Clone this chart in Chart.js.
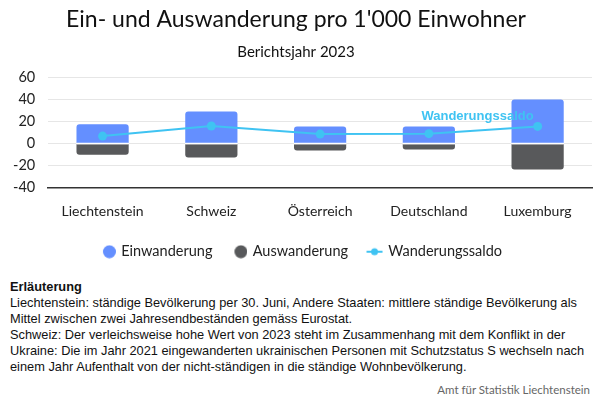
<!DOCTYPE html>
<html>
<head>
<meta charset="utf-8">
<script src="https://cdn.jsdelivr.net/npm/chart.js@4"></script>
<style>
  body { margin: 0; background: #fff; }
  #wrap { position: relative; width: 600px; height: 400px; }
  #chartBox { position: absolute; left: 0; top: 0; width: 600px; height: 269px; }
  #notes {
    position: absolute; left: 10px; top: 279px; width: 588px;
    font-family: "Liberation Sans", Arial, sans-serif; font-size: 12.8px;
    line-height: 16px; color: #111;
  }
  #notes b { font-weight: bold; }
  #credit {
    position: absolute; right: 10px; top: 383px;
    font-family: Lato, sans-serif; font-size: 11.5px; color: #666;
  }
</style>
</head>
<body>
<div id="wrap">
  <div id="chartBox"><canvas id="migChart"></canvas></div>
  <div id="notes">
    <b>Erläuterung</b><br>
    Liechtenstein: ständige Bevölkerung per 30. Juni, Andere Staaten: mittlere ständige Bevölkerung als<br>
    Mittel zwischen zwei Jahresendbeständen gemäss Eurostat.<br>
    Schweiz: Der verleichsweise hohe Wert von 2023 steht im Zusammenhang mit dem Konflikt in der<br>
    Ukraine: Die im Jahr 2021 eingewanderten ukrainischen Personen mit Schutzstatus S wechseln nach<br>
    einem Jahr Aufenthalt von der nicht-ständigen in die ständige Wohnbevölkerung.
  </div>
  <div id="credit">Amt für Statistik Liechtenstein</div>
</div>
<script>
// Werte pro 1'000 Einwohner, Berichtsjahr 2023
const countries = ["Liechtenstein", "Schweiz", "Österreich", "Deutschland", "Luxemburg"];
const einwanderung = [17.5, 29.2, 15.6, 15.6, 40.0];
const auswanderung = [-10.2, -12.8, -6.4, -5.5, -23.6];
const saldo = [6.8, 16.0, 8.6, 9.0, 15.6];
const yTicks = [-40, -20, 0, 20, 40, 60];

const blue = "#648fff";
const dark = "#58595b";
const cyan = "#3fc3f2";

// legend markers; the empty left part of the image gives the gap between items
function circleMarker(color) {
  const c = document.createElement("canvas");
  c.width = 28; c.height = 14;
  const g = c.getContext("2d");
  g.fillStyle = color;
  g.beginPath(); g.arc(21.5, 7, 6.5, 0, Math.PI * 2); g.fill();
  return c;
}
function lineMarker(color) {
  const c = document.createElement("canvas");
  c.width = 28; c.height = 14;
  const g = c.getContext("2d");
  g.strokeStyle = color; g.lineWidth = 2;
  g.beginPath(); g.moveTo(11.5, 7); g.lineTo(27.5, 7); g.stroke();
  g.fillStyle = color;
  g.beginPath(); g.arc(19.5, 7, 3.5, 0, Math.PI * 2); g.fill();
  return c;
}

// white separator where the two bars meet at zero
const zeroGap = {
  id: "zeroGap",
  afterDatasetDraw(chart, args) {
    if (args.meta.type !== "bar") return;
    const y0 = chart.scales.y.getPixelForValue(0);
    const ctx = chart.ctx;
    ctx.save();
    ctx.strokeStyle = "#fff";
    ctx.lineWidth = 1.5;
    args.meta.data.forEach(bar => {
      ctx.beginPath();
      ctx.moveTo(bar.x - bar.width / 2, y0);
      ctx.lineTo(bar.x + bar.width / 2, y0);
      ctx.stroke();
    });
    ctx.restore();
  }
};

// series name next to the last point of the line
const seriesLabel = {
  id: "seriesLabel",
  afterDatasetsDraw(chart) {
    const idx = 2;
    const meta = chart.getDatasetMeta(idx);
    const last = meta.data[meta.data.length - 1];
    const ctx = chart.ctx;
    ctx.save();
    ctx.font = "bold 13px 'Liberation Sans', Arial, sans-serif";
    ctx.fillStyle = cyan;
    ctx.textAlign = "right";
    ctx.textBaseline = "middle";
    ctx.fillText(chart.data.datasets[idx].label, last.x - 4, last.y - 10);
    ctx.restore();
  }
};

new Chart(document.getElementById("migChart"), {
  data: {
    labels: countries,
    datasets: [
      {
        type: "bar",
        label: "Einwanderung",
        data: einwanderung,
        backgroundColor: blue,
        borderRadius: 3,
        stack: "bars",
        order: 1,
        barPercentage: 0.6,
        categoryPercentage: 0.8,
      },
      {
        type: "bar",
        label: "Auswanderung",
        data: auswanderung,
        backgroundColor: dark,
        borderRadius: 3,
        stack: "bars",
        order: 1,
        barPercentage: 0.6,
        categoryPercentage: 0.8,
      },
      {
        type: "line",
        label: "Wanderungssaldo",
        data: saldo,
        borderColor: cyan,
        backgroundColor: cyan,
        borderWidth: 2,
        pointRadius: 4.5,
        pointBorderWidth: 0,
        pointStyle: "circle",
        tension: 0,
        stack: "saldo",
        order: 0,
      },
    ],
  },
  options: {
    responsive: true,
    maintainAspectRatio: false,
    animation: false,
    layout: { padding: { left: 0, right: 8, top: 0, bottom: 0 } },
    plugins: {
      title: {
        display: true,
        text: "Ein- und Auswanderung pro 1'000 Einwohner",
        font: { family: "Lato", size: 23, weight: "normal" },
        color: "#111",
        padding: { top: 6, bottom: 0 },
      },
      subtitle: {
        display: true,
        text: "Berichtsjahr 2023",
        font: { family: "Lato", size: 15 },
        color: "#111",
        padding: { top: 10, bottom: 16 },
      },
      legend: {
        position: "bottom",
        labels: {
          usePointStyle: true,
          pointStyleWidth: 24,
          boxHeight: 9,
          padding: 9,
          color: "#222",
          font: { family: "Lato", size: 14.5 },
          sort: (a, b) => a.datasetIndex - b.datasetIndex,
          generateLabels(chart) {
            const items = Chart.defaults.plugins.legend.labels.generateLabels(chart);
            items.forEach(it => {
              const ds = chart.data.datasets[it.datasetIndex];
              it.pointStyle = ds.type === "line" ? lineMarker(ds.borderColor) : circleMarker(ds.backgroundColor);
            });
            return items;
          },
        },
      },
      tooltip: { enabled: false },
    },
    scales: {
      x: {
        stacked: true,
        grid: { display: false, drawTicks: false },
        border: { display: true, color: "#333", width: 1.5 },
        ticks: { color: "#222", padding: 17, font: { family: "Lato", size: 14, lineHeight: 1 } },
      },
      y: {
        stacked: true,
        min: yTicks[0],
        max: yTicks[yTicks.length - 1],
        afterBuildTicks(scale) {
          scale.ticks = yTicks.map(v => ({ value: v }));
        },
        grid: { color: "#e6e6e6", drawTicks: false },
        border: { display: false },
        ticks: { color: "#222", padding: 13, autoSkip: false, font: { family: "Lato", size: 14.5 } },
      },
    },
  },
  plugins: [zeroGap, seriesLabel],
});
</script>
</body>
</html>
